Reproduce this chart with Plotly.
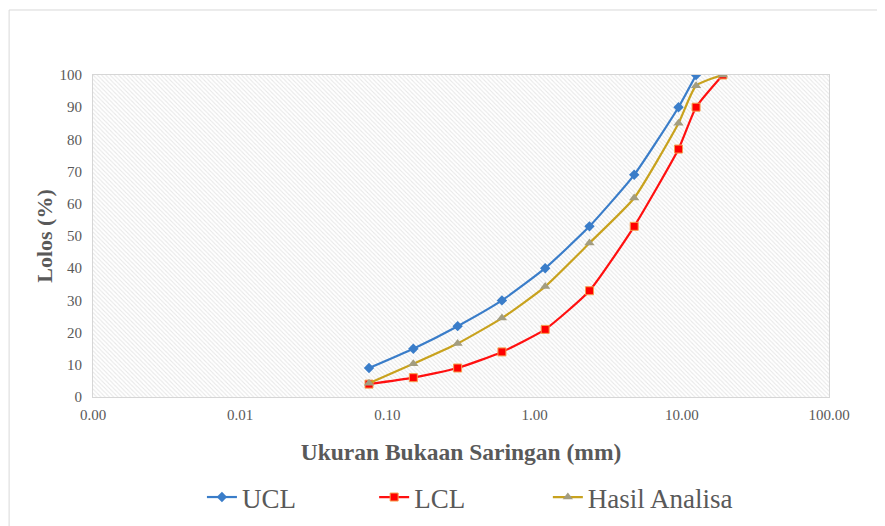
import plotly.graph_objects as go

sieve_mm = [0.075, 0.15, 0.3, 0.6, 1.18, 2.36, 4.75, 9.5, 12.5, 19.0]
ucl_sizes = [0.075, 0.15, 0.3, 0.6, 1.18, 2.36, 4.75, 9.5, 12.5]
ucl = [9, 15, 22, 30, 40, 53, 69, 90, 100]
lcl = [4, 6, 9, 14, 21, 33, 53, 77, 90, 100]
hasil = [4.3, 10.3, 16.6, 24.5, 34.3, 47.8, 61.8, 85.0, 96.7, 100]

x_tickvals = [0.001, 0.01, 0.1, 1, 10, 100]
x_ticktext = ["0.00", "0.01", "0.10", "1.00", "10.00", "100.00"]
y_tickvals = [0, 10, 20, 30, 40, 50, 60, 70, 80, 90, 100]

XMIN, XMAX, YMIN, YMAX = 0.001, 100, 0, 100
FONT = "Liberation Serif"
GRAY = "#595959"

fig = go.Figure()

# hatched plot-area background
fig.add_trace(go.Scatter(
    x=[XMIN, XMAX, XMAX, XMIN, XMIN], y=[YMIN, YMIN, YMAX, YMAX, YMIN],
    mode="lines", line=dict(width=0), fill="toself", fillcolor="rgba(0,0,0,0)",
    fillpattern=dict(shape="\\", fgcolor="#d0d0d0", bgcolor="white", size=3, solidity=0.35),
    hoverinfo="skip", showlegend=False))

fig.add_trace(go.Scatter(
    x=ucl_sizes, y=ucl, name="UCL", mode="lines+markers", legend="legend",
    line=dict(color="#3a7dc9", width=2.2, shape="spline", smoothing=0.5),
    marker=dict(symbol="diamond", size=8, color="#3a7dc9")))
fig.add_trace(go.Scatter(
    x=sieve_mm, y=lcl, name="LCL", mode="lines+markers", legend="legend2",
    line=dict(color="#ff1010", width=2.2, shape="spline", smoothing=0.5),
    marker=dict(symbol="square", size=8, color="#ff0000", line=dict(color="#f5a050", width=1))))
fig.add_trace(go.Scatter(
    x=sieve_mm, y=hasil, name="Hasil Analisa", mode="lines+markers", legend="legend3",
    line=dict(color="#c8a21e", width=2.2, shape="spline", smoothing=0.5),
    marker=dict(symbol="triangle-up", size=9, color="#a39d80")))

fig.update_xaxes(
    type="log", range=[-3, 2], tickvals=x_tickvals, ticktext=x_ticktext,
    showgrid=True, gridcolor="#d6d6d6", gridwidth=1.3,
    showline=True, linecolor="#d6d6d6", mirror=True, zeroline=False,
    tickfont=dict(family=FONT, size=15, color=GRAY),
    ticks="outside", ticklen=4, tickcolor="rgba(0,0,0,0)",
    automargin=False,
    title=dict(text="<b>Ukuran Bukaan Saringan (mm)</b>",
               font=dict(family=FONT, size=23.5, color=GRAY), standoff=21))
fig.update_yaxes(
    range=[YMIN, YMAX], tickvals=y_tickvals,
    showgrid=True, gridcolor="#d6d6d6", gridwidth=1.3,
    showline=True, linecolor="#d6d6d6", mirror=True, zeroline=False,
    tickfont=dict(family=FONT, size=15, color=GRAY),
    ticks="outside", ticklen=7, tickcolor="rgba(0,0,0,0)",
    automargin=False,
    title=dict(text="<b>Lolos (%)</b>", font=dict(family=FONT, size=22, color=GRAY), standoff=0))

fig.add_shape(type="rect", xref="paper", yref="paper",
              x0=-0.114, x1=1.2, y0=-0.6, y1=1.2019,
              line=dict(color="#d9d9d9", width=1), fillcolor="rgba(0,0,0,0)", layer="below")

leg_common = dict(orientation="h", yanchor="top", yref="container", y=0.116, xanchor="left",
                  font=dict(family=FONT, size=27, color=GRAY), itemwidth=30,
                  bgcolor="rgba(0,0,0,0)")
fig.update_layout(
    width=885, height=526,
    margin=dict(l=85, r=64, t=67, b=137),
    paper_bgcolor="white", plot_bgcolor="white",
    font=dict(family=FONT, color=GRAY),
    legend=dict(leg_common, x=0.148),
    legend2=dict(leg_common, x=0.382),
    legend3=dict(leg_common, x=0.618),
    showlegend=True,
)

fig.write_html("out.html")
